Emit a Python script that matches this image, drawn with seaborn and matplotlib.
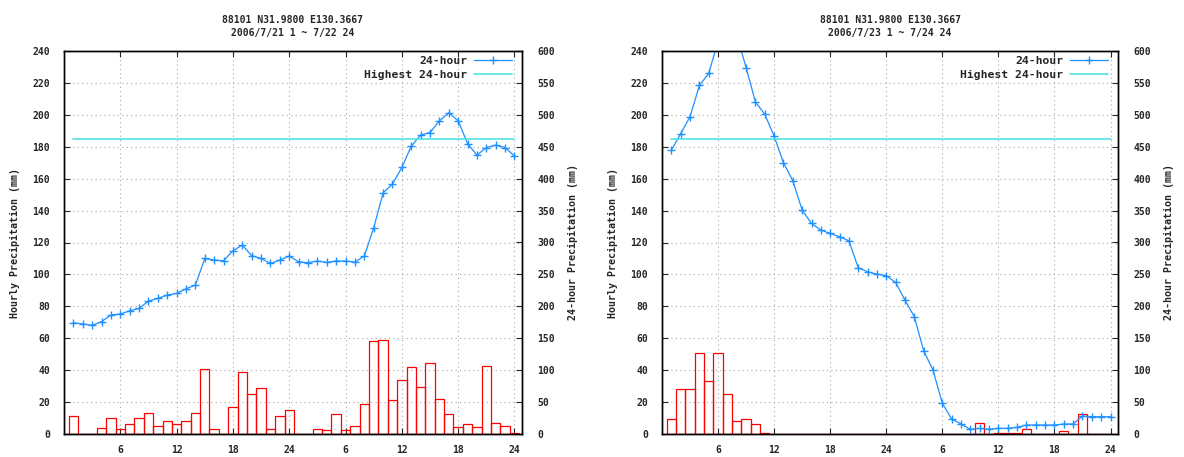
import matplotlib
matplotlib.use('Agg')
import matplotlib.pyplot as plt
import seaborn as sns
import pandas as pd

# hours of the two-day window, ticks repeat per day
hours = list(range(1, 49))
tick_hours = [6, 12, 18, 24, 30, 36, 42, 48]
tick_labels = ['6', '12', '18', '24', '6', '12', '18', '24']

titles = ['88101 N31.9800 E130.3667\n2006/7/21 1 ~ 7/22 24',
          '88101 N31.9800 E130.3667\n2006/7/23 1 ~ 7/24 24']

# hourly precipitation (mm), 7/21 1h - 7/22 24h
hourly_0721 = [11, 0, 0, 4, 10, 3, 6, 10, 13, 5, 8, 6, 8, 13, 40.5, 3, 0, 17,
               39, 25, 29, 3, 11, 15,
               0, 0, 3, 2.5, 12.3, 2.5, 5, 19, 58.2, 58.9, 21, 33.8, 41.8, 29.6,
               44.3, 21.7, 12.3, 4.2, 6, 4.2, 42.6, 6.7, 4.8, 0.6]
# 24-hour accumulated precipitation (mm)
acc24_0721 = [174.3, 172.3, 170.3, 176, 186.3, 188, 193, 196.8, 208.3, 212.5,
              217.5, 220.3, 227.5, 233.3, 275, 272.5, 271.5, 287, 296, 279.3,
              275, 267.3, 272.5, 278.8,
              269.8, 268.3, 271, 268.8, 271, 271, 269.3, 278.8, 323, 377.8,
              391.5, 417.5, 451, 468.3, 472.3, 490.5, 503.3, 490.5, 455, 436.8,
              448.8, 452.5, 448.8, 435.3]

# 7/23 1h - 7/24 24h
hourly_0723 = [9.2, 28, 28, 50.5, 33.4, 50.9, 25, 8.4, 9.2, 6.3, 0.5, 0, 0, 0,
               0, 0, 0, 0, 0, 0, 0, 0, 0, 0,
               0, 0, 0, 0, 0, 0, 0, 0, 0, 6.7, 0, 0.5, 0.5, 0.5, 3.1, 0, 0, 0,
               2.1, 0, 12.3, 0, 0, 0]
acc24_0723 = [444.7, 470.5, 497, 546, 565, 615, 636, 625, 574, 520, 501, 466.6,
              424.8, 396.7, 350.7, 329.9, 319.4, 314.2, 309, 302.7, 260.4,
              254.2, 250.5, 248,
              237.5, 209.8, 183.7, 130.5, 100.2, 48, 23.5, 15.7, 7.3, 8.9, 7.3,
              8.9, 8.9, 10.4, 14.1, 14.1, 14.1, 14.1, 15.7, 15.7, 28.2, 27.1,
              27.1, 27.1]

highest_24h = 462

sns.set_style('ticks')
plt.rcParams['font.family'] = ['DejaVu Sans Mono']
plt.rcParams['font.weight'] = 'bold'
plt.rcParams['axes.titleweight'] = 'bold'
plt.rcParams['axes.labelweight'] = 'bold'
plt.rcParams['font.size'] = 7.2


def draw_panel(ax, hourly, acc24, title):
    df = pd.DataFrame({'hour': hours, 'hourly': hourly, 'acc24': acc24})

    sns.histplot(data=df, x='hour', weights='hourly', discrete=True,
                 fill=False, color='red', linewidth=0.9, ax=ax)
    ax.set_xlim(0, 48.8)
    ax.set_ylim(0, 240)
    ax.set_yticks(range(0, 241, 20))
    ax.set_xticks(tick_hours, tick_labels, fontweight='bold', fontsize=7)
    ax.set_yticklabels([str(v) for v in range(0, 241, 20)],
                       fontweight='bold', fontsize=7)
    ax.set_xlabel('')
    ax.set_ylabel('Hourly Precipitation (mm)', fontweight='bold')
    ax.yaxis.set_label_coords(-0.096, 0.5)
    ax.grid(True, color='#a8a8a8', linestyle=(0, (1, 3)), linewidth=0.8)
    ax.set_axisbelow(True)
    ax.tick_params(axis='y', direction='in', length=4, pad=10)
    ax.tick_params(axis='x', direction='in', length=4, pad=8, top=True)
    ax.set_title(title, pad=11, linespacing=1.4, fontweight='bold',
                 fontsize=7)
    for s in ax.spines.values():
        s.set_color('black')
        s.set_linewidth(1)

    ax2 = ax.twinx()
    sns.lineplot(data=df, x='hour', y='acc24', ax=ax2, color='#1e90ff',
                 marker='+', markersize=5.5, markeredgewidth=1,
                 markeredgecolor='#1e90ff', linewidth=0.9, label='24-hour')
    sns.lineplot(x=[hours[0], hours[-1]], y=[highest_24h, highest_24h],
                 ax=ax2, color='#50e3e3', linewidth=1.2,
                 label='Highest 24-hour')
    ax2.set_ylim(0, 600)
    ax2.set_yticks(range(0, 601, 50))
    ax2.set_yticklabels([str(v) for v in range(0, 601, 50)],
                        fontweight='bold', fontsize=7)
    ax2.set_ylabel('24-hour Precipitation (mm)', fontweight='bold')
    ax2.yaxis.set_label_coords(1.100, 0.5)
    ax2.tick_params(axis='y', direction='in', length=4, pad=11)
    ax2.legend(loc='upper right', bbox_to_anchor=(0.978, 0.988),
               frameon=False, markerfirst=False, handlelength=3.3,
               handletextpad=0.6, labelspacing=0.4, borderpad=0,
               borderaxespad=0, prop={'weight': 'bold', 'size': 8.2})
    for s in ax2.spines.values():
        s.set_color('black')
        s.set_linewidth(1)


fig = plt.figure(figsize=(11.84, 4.57), dpi=100)
ax_left = fig.add_axes([64 / 1184, 23 / 457, 458 / 1184, 383 / 457])
ax_right = fig.add_axes([662 / 1184, 23 / 457, 456 / 1184, 383 / 457])

draw_panel(ax_left, hourly_0721, acc24_0721, titles[0])
draw_panel(ax_right, hourly_0723, acc24_0723, titles[1])

fig.savefig('out.png', dpi=100)
